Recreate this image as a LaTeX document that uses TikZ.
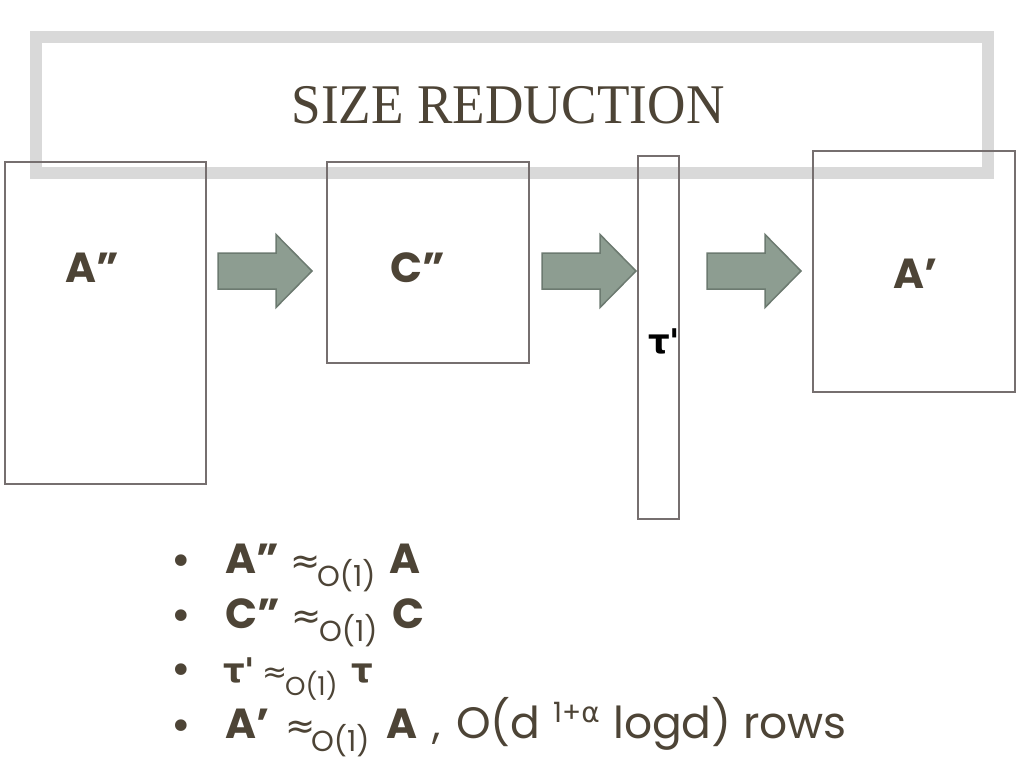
\documentclass[tikz,border=0pt]{standalone}
\usepackage{fontspec}
\setmainfont{Poppins}
\newfontfamily\titlefont{Liberation Serif}
\newfontfamily\greekfont{DejaVu Sans}
\usetikzlibrary{positioning}

\definecolor{textbrown}{RGB}{77,68,54}
\definecolor{framegray}{RGB}{217,217,217}
\definecolor{boxgray}{RGB}{118,111,111}
\definecolor{arrowfill}{RGB}{141,157,145}
\definecolor{arrowline}{RGB}{108,122,112}

\newcommand{\fsz}[1]{\fontsize{#1}{#1}\selectfont}
\newcommand{\seg}[2]{\makebox[#1pt][l]{#2}}
\newcommand{\apx}[1]{{\greekfont\fsz{#1}≈}}
\newcommand{\osub}[1]{\raisebox{-13pt}{\fsz{#1}O(1)}}
\newcommand{\taub}[1]{{\greekfont\fsz{#1}\bfseries τ}}

\begin{document}
\begin{tikzpicture}[x=1pt,y=-1pt,
  matbox/.style={draw=boxgray,line width=2pt,inner sep=0pt},
  boxlabel/.style={text=textbrown,font=\fsz{42}\bfseries,anchor=base west,inner sep=0pt},
  itemtext/.style={text=textbrown,font=\fsz{42},anchor=base west,inner sep=0pt},
  itemdot/.style={text=textbrown,font=\greekfont\fsz{40},anchor=base,inner sep=0pt},
  bigarrow/.pic={\filldraw[fill=arrowfill,draw=arrowline,line width=1.5pt]
    (0,-18) -- (58,-18) -- (58,-36.5) -- (94,0) -- (58,36.5) -- (58,18) -- (0,18) -- cycle;}]
\useasboundingbox (0,0) rectangle (1024,768);

% title frame
\draw[framegray,line width=12pt] (35.5,37) rectangle (988,173);
\node[text=textbrown,font=\titlefont\fsz{56},anchor=base,inner sep=0pt] (title) at (508,123)
  {\scalebox{0.95}[1]{SIZE REDUCTION}};

% matrices
\node[matbox,minimum width=201pt,minimum height=322pt] (App) at (105.5,323) {};
\node[matbox,minimum width=202pt,minimum height=201pt] (Cpp) at (428,262.5) {};
\node[matbox,minimum width=41pt,minimum height=363pt] (taup) at (658.5,337.5) {};
\node[matbox,minimum width=202pt,minimum height=241pt] (Ap) at (914,271.5) {};

\node[boxlabel] (Applab) at (65,282) {A”};
\node[boxlabel] (Cpplab) at (390,282) {C”};
\node[boxlabel,text=black,font=\greekfont\fsz{34}\bfseries] (tauplab) at (648,353) {τ'};
\node[boxlabel] (Aplab) at (893,288) {A’};

% arrows
\foreach \ax in {218,542,707}
  \pic at (\ax,271) {bigarrow};

% bullet list
\foreach \by in {573,628,682,738}
  \node[itemdot] at (181,\by+2) {•};
\node[itemtext] (item1) at (225,573)
  {\seg{65}{\bfseries A”}\seg{27}{\apx{36}}\seg{72}{\osub{29}}\textbf{A}};
\node[itemtext] (item2) at (225,628)
  {\seg{66}{\bfseries C”}\seg{28}{\apx{36}}\seg{73}{\osub{29}}\textbf{C}};
\node[itemtext] (item3) at (223,682)
  {\seg{39}{\taub{34}{\greekfont\fsz{34}\bfseries '}}\seg{23}{\apx{30}}\seg{66}{\osub{26}}\taub{34}};
\node[itemtext] (item4) at (225,738)
  {\seg{60}{\bfseries A’}\seg{26}{\apx{36}}\seg{75}{\osub{29}}\seg{46}{\bfseries A}\seg{24}{,}%
   \seg{97}{\fsz{44}O(d}\seg{60}{\raisebox{16pt}{\fsz{28}1+{\greekfont α}}}\seg{130}{\fsz{44}logd)}{\fsz{44}rows}};
\end{tikzpicture}
\end{document}
